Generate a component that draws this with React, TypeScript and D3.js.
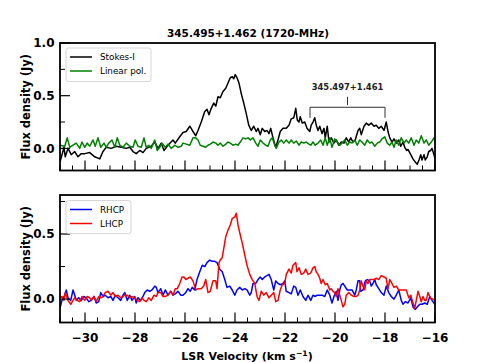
import React from "react";
import * as d3 from "d3";

// ---------- data ----------
const titleText = "345.495+1.462 (1720-MHz)";
const annotText = "345.497+1.461";
const annotRange = [-21, -18];
const xMajorTicks = [-30, -28, -26, -24, -22, -20, -18, -16];
const topYMajor = [0.0, 0.5, 1.0];
const topYMinor = [0.25, 0.75];
const botYMajor = [0.0, 0.5];
const botYMinor = [0.25, 0.75];

const stokesI: [number, number][] = [
  [-31.0, -0.13], [-30.84, 0.01], [-30.79, -0.08], [-30.68, 0.0], [-30.55, -0.06], [-30.41, -0.03],
  [-30.28, -0.08], [-30.15, -0.05], [-30.01, -0.05], [-29.81, -0.04], [-29.61, -0.08], [-29.41, -0.1],
  [-29.28, -0.03], [-29.15, 0.01], [-28.95, 0.0], [-28.75, 0.02], [-28.55, 0.01], [-28.35, 0.0],
  [-28.21, 0.01], [-28.08, -0.03], [-27.95, -0.05], [-27.81, -0.02], [-27.68, -0.04], [-27.55, 0.0],
  [-27.35, 0.02], [-27.21, 0.06], [-27.08, 0.0], [-26.95, 0.05], [-26.84, -0.02], [-26.68, 0.03],
  [-26.48, 0.08], [-26.39, 0.05], [-26.21, 0.11], [-26.08, 0.15], [-25.95, 0.16], [-25.81, 0.21],
  [-25.75, 0.19], [-25.68, 0.16], [-25.57, 0.12], [-25.48, 0.17], [-25.35, 0.25], [-25.21, 0.35],
  [-25.12, 0.37], [-25.04, 0.32], [-24.95, 0.38], [-24.85, 0.43], [-24.77, 0.4], [-24.68, 0.49],
  [-24.59, 0.48], [-24.48, 0.54], [-24.37, 0.57], [-24.28, 0.62], [-24.19, 0.67], [-24.11, 0.68],
  [-24.05, 0.66], [-23.99, 0.7], [-23.92, 0.67], [-23.84, 0.62], [-23.75, 0.52], [-23.65, 0.43],
  [-23.55, 0.33], [-23.45, 0.22], [-23.35, 0.17], [-23.25, 0.21], [-23.15, 0.16], [-23.08, 0.19],
  [-22.99, 0.13], [-22.91, 0.19], [-22.81, 0.16], [-22.72, 0.17], [-22.64, 0.14], [-22.57, 0.19],
  [-22.48, 0.1], [-22.37, 0.01], [-22.28, 0.08], [-22.19, 0.16], [-22.08, 0.19], [-21.95, 0.19],
  [-21.84, 0.22], [-21.75, 0.28], [-21.65, 0.29], [-21.57, 0.38], [-21.51, 0.27], [-21.44, 0.25],
  [-21.39, 0.3], [-21.31, 0.24], [-21.21, 0.25], [-21.12, 0.19], [-21.01, 0.16], [-20.95, 0.22],
  [-20.88, 0.25], [-20.81, 0.29], [-20.75, 0.22], [-20.68, 0.17], [-20.61, 0.21], [-20.52, 0.14],
  [-20.44, 0.19], [-20.39, 0.1], [-20.31, 0.21], [-20.24, 0.06], [-20.15, 0.1], [-20.04, 0.05],
  [-19.95, 0.08], [-19.85, 0.03], [-19.75, 0.06], [-19.64, 0.05], [-19.55, 0.1], [-19.45, 0.06],
  [-19.37, 0.1], [-19.28, 0.06], [-19.19, 0.08], [-19.08, 0.17], [-19.01, 0.19], [-18.95, 0.13],
  [-18.84, 0.21], [-18.75, 0.24], [-18.65, 0.22], [-18.55, 0.24], [-18.44, 0.21], [-18.35, 0.22],
  [-18.25, 0.19], [-18.15, 0.21], [-18.04, 0.17], [-17.95, 0.25], [-17.88, 0.16], [-17.81, 0.1],
  [-17.72, 0.06], [-17.64, 0.09], [-17.55, 0.05], [-17.45, 0.08], [-17.37, 0.02], [-17.28, 0.06],
  [-17.21, 0.01], [-17.13, -0.02], [-17.08, -0.01], [-16.97, -0.06], [-16.88, -0.1], [-16.79, -0.13],
  [-16.71, -0.15], [-16.64, -0.11], [-16.57, -0.06], [-16.52, -0.11], [-16.44, -0.06], [-16.39, -0.11],
  [-16.31, -0.08], [-16.25, -0.03], [-16.17, -0.02], [-16.12, 0.0], [-16.04, -0.06], [-16.0, -0.1],
];

const linearPol: [number, number][] = [
  [-31.0, 0.03], [-30.81, 0.02], [-30.71, 0.1], [-30.61, 0.01], [-30.48, 0.03], [-30.35, 0.05],
  [-30.21, 0.0], [-30.12, 0.06], [-30.01, 0.01], [-29.91, 0.05], [-29.81, 0.02], [-29.68, 0.08],
  [-29.59, 0.02], [-29.48, 0.1], [-29.37, 0.01], [-29.24, 0.05], [-29.15, 0.01], [-29.05, 0.05],
  [-28.92, 0.08], [-28.81, 0.01], [-28.71, 0.1], [-28.61, 0.03], [-28.48, 0.01], [-28.35, 0.05],
  [-28.21, 0.02], [-28.08, 0.01], [-27.99, 0.08], [-27.88, 0.02], [-27.75, 0.01], [-27.64, 0.1],
  [-27.55, 0.01], [-27.45, 0.03], [-27.35, 0.0], [-27.21, 0.08], [-27.11, -0.02], [-27.01, 0.01],
  [-26.92, 0.05], [-26.79, 0.01], [-26.68, 0.04], [-26.55, 0.0], [-26.41, 0.03], [-26.28, 0.01],
  [-26.15, 0.02], [-26.08, 0.05], [-25.95, 0.04], [-25.81, 0.03], [-25.68, 0.1], [-25.57, 0.1],
  [-25.48, 0.08], [-25.39, 0.03], [-25.28, 0.02], [-25.17, 0.01], [-25.08, 0.03], [-24.99, 0.04],
  [-24.88, 0.06], [-24.77, 0.05], [-24.68, 0.03], [-24.59, 0.05], [-24.48, 0.02], [-24.37, 0.04],
  [-24.28, 0.06], [-24.19, 0.05], [-24.08, 0.03], [-23.97, 0.04], [-23.88, 0.03], [-23.79, 0.06],
  [-23.68, 0.1], [-23.57, 0.09], [-23.48, 0.1], [-23.39, 0.08], [-23.28, 0.1], [-23.17, 0.05],
  [-23.08, 0.02], [-22.99, 0.08], [-22.88, 0.05], [-22.77, 0.03], [-22.68, 0.02], [-22.59, 0.08],
  [-22.51, 0.1], [-22.41, 0.03], [-22.35, 0.0], [-22.24, 0.06], [-22.15, 0.08], [-22.05, 0.05],
  [-21.95, 0.08], [-21.84, 0.05], [-21.75, 0.08], [-21.65, 0.05], [-21.55, 0.07], [-21.44, 0.03],
  [-21.35, 0.06], [-21.25, 0.05], [-21.15, 0.06], [-21.04, 0.04], [-20.97, 0.03], [-20.88, 0.06],
  [-20.79, 0.03], [-20.68, 0.05], [-20.57, 0.08], [-20.48, 0.03], [-20.39, 0.1], [-20.31, 0.03],
  [-20.21, 0.1], [-20.12, 0.01], [-20.01, 0.09], [-19.91, 0.06], [-19.81, 0.03], [-19.72, 0.05],
  [-19.61, 0.08], [-19.51, 0.03], [-19.41, 0.06], [-19.32, 0.05], [-19.21, 0.08], [-19.11, 0.03],
  [-19.01, 0.08], [-18.92, 0.06], [-18.81, 0.03], [-18.71, 0.08], [-18.61, 0.05], [-18.52, 0.06],
  [-18.41, 0.02], [-18.31, 0.05], [-18.21, 0.06], [-18.12, 0.09], [-18.01, 0.11], [-17.91, 0.05],
  [-17.81, 0.03], [-17.72, 0.06], [-17.64, 0.01], [-17.55, 0.08], [-17.45, 0.03], [-17.35, 0.1],
  [-17.24, 0.05], [-17.15, 0.08], [-17.05, 0.05], [-16.95, 0.1], [-16.84, 0.03], [-16.75, 0.08],
  [-16.65, 0.05], [-16.55, 0.12], [-16.44, 0.05], [-16.35, 0.08], [-16.25, 0.03], [-16.15, 0.06],
  [-16.04, 0.1], [-16.0, 0.06],
];

const rhcp: [number, number][] = [
  [-31.0, -0.07], [-30.92, -0.01], [-30.81, 0.03], [-30.75, 0.07], [-30.68, 0.01], [-30.57, -0.01],
  [-30.48, 0.07], [-30.41, 0.03], [-30.35, -0.01], [-30.25, 0.01], [-30.15, -0.01], [-30.04, 0.02],
  [-29.95, 0.01], [-29.85, -0.02], [-29.75, -0.01], [-29.64, 0.02], [-29.55, -0.03], [-29.45, -0.02],
  [-29.37, 0.05], [-29.28, 0.02], [-29.19, 0.03], [-29.08, 0.01], [-28.97, 0.02], [-28.88, -0.01],
  [-28.79, 0.03], [-28.68, 0.01], [-28.57, -0.01], [-28.48, 0.03], [-28.41, 0.05], [-28.31, -0.01],
  [-28.21, 0.03], [-28.12, -0.01], [-28.01, 0.02], [-27.95, -0.03], [-27.88, 0.01], [-27.77, -0.01],
  [-27.68, 0.02], [-27.61, 0.05], [-27.51, 0.07], [-27.41, 0.06], [-27.32, 0.07], [-27.21, 0.1],
  [-27.15, 0.09], [-27.08, 0.05], [-26.97, 0.08], [-26.88, 0.03], [-26.79, 0.07], [-26.68, 0.03],
  [-26.57, 0.06], [-26.48, 0.03], [-26.39, 0.04], [-26.28, 0.06], [-26.17, 0.03], [-26.08, 0.03],
  [-25.97, 0.05], [-25.88, 0.08], [-25.79, 0.06], [-25.71, 0.09], [-25.61, 0.07], [-25.52, 0.15],
  [-25.41, 0.21], [-25.31, 0.26], [-25.21, 0.25], [-25.12, 0.28], [-25.01, 0.3], [-24.91, 0.29],
  [-24.81, 0.29], [-24.72, 0.28], [-24.61, 0.23], [-24.51, 0.21], [-24.41, 0.15], [-24.32, 0.09],
  [-24.21, 0.1], [-24.11, 0.07], [-24.01, 0.03], [-23.92, 0.07], [-23.81, 0.09], [-23.71, 0.07],
  [-23.61, 0.08], [-23.52, 0.07], [-23.41, 0.03], [-23.35, 0.05], [-23.28, 0.12], [-23.17, 0.12],
  [-23.08, 0.15], [-22.99, 0.17], [-22.91, 0.15], [-22.81, 0.17], [-22.72, 0.18], [-22.64, 0.19],
  [-22.55, 0.15], [-22.45, 0.07], [-22.37, 0.14], [-22.28, 0.12], [-22.19, 0.11], [-22.08, 0.12],
  [-22.01, 0.14], [-21.95, 0.06], [-21.84, 0.05], [-21.75, 0.04], [-21.65, 0.1], [-21.57, 0.09],
  [-21.48, 0.03], [-21.39, 0.07], [-21.28, 0.02], [-21.17, -0.01], [-21.08, 0.03], [-20.97, -0.01],
  [-20.88, 0.03], [-20.79, 0.02], [-20.71, 0.03], [-20.61, 0.03], [-20.52, 0.03], [-20.41, 0.02],
  [-20.31, 0.07], [-20.21, 0.03], [-20.12, -0.03], [-20.04, 0.02], [-19.95, 0.06], [-19.88, -0.01],
  [-19.81, 0.07], [-19.75, 0.11], [-19.68, 0.12], [-19.61, 0.1], [-19.51, 0.07], [-19.41, 0.07],
  [-19.32, 0.07], [-19.21, 0.03], [-19.15, 0.07], [-19.08, 0.14], [-19.01, 0.14], [-18.97, 0.06],
  [-18.88, 0.07], [-18.79, 0.14], [-18.71, 0.15], [-18.61, 0.14], [-18.55, 0.1], [-18.48, 0.12],
  [-18.41, 0.15], [-18.35, 0.11], [-18.25, 0.08], [-18.15, 0.05], [-18.04, 0.03], [-17.95, 0.1],
  [-17.85, 0.05], [-17.75, 0.02], [-17.64, 0.0], [-17.55, 0.03], [-17.45, 0.07], [-17.35, -0.01],
  [-17.28, -0.04], [-17.19, -0.02], [-17.08, -0.03], [-16.97, 0.01], [-16.88, -0.06], [-16.79, -0.08],
  [-16.71, -0.06], [-16.61, -0.04], [-16.52, -0.04], [-16.41, -0.03], [-16.31, -0.04], [-16.21, 0.02],
  [-16.12, -0.01], [-16.01, -0.04],
];

const lhcp: [number, number][] = [
  [-31.0, 0.01], [-30.92, 0.02], [-30.84, -0.01], [-30.79, 0.05], [-30.68, -0.01], [-30.57, -0.04],
  [-30.48, -0.01], [-30.41, 0.01], [-30.31, -0.01], [-30.21, -0.02], [-30.12, 0.02], [-30.01, -0.01],
  [-29.91, 0.02], [-29.81, 0.01], [-29.75, -0.01], [-29.64, 0.02], [-29.55, -0.02], [-29.45, 0.02],
  [-29.37, 0.01], [-29.28, 0.02], [-29.19, 0.05], [-29.08, 0.06], [-28.97, 0.03], [-28.88, 0.05],
  [-28.79, 0.02], [-28.68, 0.03], [-28.57, 0.01], [-28.48, 0.02], [-28.41, 0.03], [-28.31, 0.03],
  [-28.21, 0.01], [-28.12, 0.02], [-28.01, 0.01], [-27.91, -0.01], [-27.81, -0.02], [-27.72, 0.01],
  [-27.64, -0.01], [-27.55, -0.02], [-27.45, 0.01], [-27.35, -0.01], [-27.24, 0.03], [-27.15, 0.02],
  [-27.08, 0.05], [-26.97, 0.05], [-26.88, 0.02], [-26.79, 0.02], [-26.68, 0.03], [-26.57, 0.06],
  [-26.48, 0.03], [-26.39, 0.08], [-26.31, 0.08], [-26.21, 0.12], [-26.12, 0.17], [-26.04, 0.17],
  [-25.97, 0.15], [-25.88, 0.16], [-25.79, 0.17], [-25.68, 0.14], [-25.57, 0.07], [-25.48, 0.08],
  [-25.35, 0.08], [-25.25, 0.1], [-25.17, 0.15], [-25.08, 0.05], [-24.99, 0.06], [-24.88, 0.14],
  [-24.77, 0.14], [-24.72, 0.08], [-24.64, 0.28], [-24.59, 0.3], [-24.51, 0.32], [-24.43, 0.41],
  [-24.37, 0.48], [-24.28, 0.53], [-24.19, 0.57], [-24.11, 0.62], [-24.01, 0.63], [-23.95, 0.66],
  [-23.88, 0.57], [-23.81, 0.51], [-23.71, 0.43], [-23.61, 0.34], [-23.52, 0.26], [-23.41, 0.19],
  [-23.31, 0.15], [-23.21, 0.12], [-23.12, 0.02], [-23.04, -0.01], [-22.95, 0.06], [-22.85, 0.03],
  [-22.75, 0.05], [-22.64, 0.01], [-22.55, 0.03], [-22.45, 0.05], [-22.37, -0.02], [-22.28, -0.01],
  [-22.19, 0.07], [-22.11, 0.11], [-22.01, 0.12], [-21.95, 0.19], [-21.84, 0.23], [-21.75, 0.2],
  [-21.68, 0.26], [-21.57, 0.28], [-21.52, 0.21], [-21.44, 0.24], [-21.35, 0.19], [-21.25, 0.2],
  [-21.17, 0.23], [-21.08, 0.19], [-20.97, 0.2], [-20.88, 0.24], [-20.81, 0.25], [-20.75, 0.21],
  [-20.68, 0.19], [-20.61, 0.16], [-20.55, 0.12], [-20.48, 0.15], [-20.39, 0.11], [-20.31, 0.12],
  [-20.21, 0.07], [-20.15, 0.08], [-20.08, 0.06], [-20.01, 0.05], [-19.95, 0.02], [-19.88, 0.08],
  [-19.81, 0.03], [-19.75, -0.01], [-19.68, -0.06], [-19.61, -0.04], [-19.55, 0.03], [-19.45, 0.05],
  [-19.35, 0.03], [-19.24, 0.02], [-19.15, 0.02], [-19.08, 0.03], [-19.01, 0.07], [-18.95, 0.14],
  [-18.88, 0.1], [-18.81, 0.07], [-18.75, 0.14], [-18.68, 0.12], [-18.61, 0.15], [-18.55, 0.15],
  [-18.44, 0.15], [-18.35, 0.16], [-18.25, 0.15], [-18.15, 0.18], [-18.04, 0.17], [-17.95, 0.16],
  [-17.88, 0.08], [-17.81, 0.15], [-17.72, 0.12], [-17.64, 0.09], [-17.55, 0.1], [-17.45, 0.07],
  [-17.35, 0.07], [-17.24, 0.07], [-17.15, 0.07], [-17.05, 0.01], [-16.97, 0.03], [-16.88, -0.03],
  [-16.81, -0.07], [-16.75, -0.01], [-16.68, 0.06], [-16.61, 0.02], [-16.55, -0.02], [-16.48, 0.02],
  [-16.41, -0.01], [-16.35, -0.01], [-16.28, 0.05], [-16.21, 0.02], [-16.15, 0.0], [-16.08, 0.0],
  [-16.01, -0.01],
];

// ---------- layout ----------
const W = 484;
const H = 363;
const FONT = "DejaVu Sans";
const xDomain = [-31, -16];
const x = d3.scaleLinear().domain(xDomain).range([60, 435]);
const yTop = d3.scaleLinear().domain([-0.21, 1.0]).range([170.5, 43]);
const yBot = d3.scaleLinear().domain([-0.18, 0.8]).range([322.5, 195]);
const xMinorTicks = d3.range(-31, -15.99, 0.5).filter((v) => !xMajorTicks.includes(v));
const fmtY = (v: number) => v.toFixed(1);
const fmtX = (v: number) => (v < 0 ? "\u2212" + Math.abs(v) : String(v));

type Series = { data: [number, number][]; color: string; label: string };

function Panel({
  id, y, series, yMajor, yMinor, showXLabels, legend,
}: {
  id: string;
  y: d3.ScaleLinear<number, number>;
  series: Series[];
  yMajor: number[];
  yMinor: number[];
  showXLabels: boolean;
  legend: { x: number; y: number; w: number; h: number };
}) {
  const [x0, x1] = x.range();
  const [yb, yt] = y.range();
  const line = d3.line<[number, number]>().x((d) => x(d[0])).y((d) => y(d[1]));
  const rowH = 14;
  return (
    <g>
      <defs>
        <clipPath id={id}>
          <rect x={x0} y={yt} width={x1 - x0} height={yb - yt} />
        </clipPath>
      </defs>
      <g clipPath={`url(#${id})`}>
        {series.map((s) => (
          <path key={s.label} d={line(s.data) || ""} fill="none" stroke={s.color} strokeWidth={1.5} strokeLinejoin="round" />
        ))}
      </g>
      {/* x ticks */}
      {xMajorTicks.map((t) => (
        <line key={"xM" + t} x1={x(t)} x2={x(t)} y1={yb} y2={yb - 10} stroke="black" strokeWidth={1.2} />
      ))}
      {xMinorTicks.map((t) => (
        <line key={"xm" + t} x1={x(t)} x2={x(t)} y1={yb} y2={yb - 5} stroke="black" strokeWidth={1} />
      ))}
      {showXLabels &&
        xMajorTicks.map((t) => (
          <text key={"xl" + t} x={x(t)} y={yb + 19} textAnchor="middle" fontFamily={FONT} fontWeight="bold" fontSize={12}>
            {fmtX(t)}
          </text>
        ))}
      {/* y ticks */}
      {yMajor.map((t) => (
        <g key={"yM" + t}>
          <line x1={x0} x2={x0 + 10} y1={y(t)} y2={y(t)} stroke="black" strokeWidth={1.2} />
          <text x={x0 - 5.5} y={y(t)} dy="0.36em" textAnchor="end" fontFamily={FONT} fontWeight="bold" fontSize={12}>
            {fmtY(t)}
          </text>
        </g>
      ))}
      {yMinor.map((t) => (
        <line key={"ym" + t} x1={x0} x2={x0 + 5} y1={y(t)} y2={y(t)} stroke="black" strokeWidth={1} />
      ))}
      {/* frame */}
      <rect x={x0} y={yt} width={x1 - x0} height={yb - yt} fill="none" stroke="black" strokeWidth={1.8} />
      {/* y label */}
      <text
        transform={`translate(29.5,${(yb + yt) / 2}) rotate(-90)`}
        textAnchor="middle"
        fontFamily={FONT}
        fontWeight="bold"
        fontSize={11.5}
      >
        Flux density (Jy)
      </text>
      {/* legend */}
      <rect x={legend.x} y={legend.y} width={legend.w} height={legend.h} rx={2.5} fill="white" fillOpacity={0.8} stroke="#cccccc" strokeWidth={0.8} />
      {series.map((s, i) => {
        const ly = legend.y + 9 + i * rowH;
        return (
          <g key={"lg" + s.label}>
            <line x1={legend.x + 4} x2={legend.x + 26} y1={ly} y2={ly} stroke={s.color} strokeWidth={1.5} />
            <text x={legend.x + 34} y={ly} dy="0.35em" fontFamily={FONT} fontSize={8.8}>
              {s.label}
            </text>
          </g>
        );
      })}
    </g>
  );
}

export default function App() {
  const aL = x(annotRange[0]);
  const aR = x(annotRange[1]);
  const aC = (aL + aR) / 2;
  return (
    <svg width={W} height={H} style={{ position: "absolute", left: 0, top: 0, background: "white" }}>
      <rect width={W} height={H} fill="white" />
      <text x={248} y={37} textAnchor="middle" fontFamily={FONT} fontWeight="bold" fontSize={10.5}>
        {titleText}
      </text>
      <Panel
        id="clipTop"
        y={yTop}
        series={[
          { data: stokesI, color: "black", label: "Stokes-I" },
          { data: linearPol, color: "#008000", label: "Linear pol." },
        ]}
        yMajor={topYMajor}
        yMinor={topYMinor}
        showXLabels={false}
        legend={{ x: 66, y: 48, w: 85, h: 33.5 }}
      />
      <Panel
        id="clipBot"
        y={yBot}
        series={[
          { data: rhcp, color: "#0000ff", label: "RHCP" },
          { data: lhcp, color: "#ff0000", label: "LHCP" },
        ]}
        yMajor={botYMajor}
        yMinor={botYMinor}
        showXLabels={true}
        legend={{ x: 66, y: 200.5, w: 65, h: 33 }}
      />
      {/* annotation bracket */}
      <g stroke="#333" strokeWidth={1} fill="none">
        <path d={`M${aL},${yTop(0.29)}V${yTop(0.39)}H${aR}V${yTop(0.29)}`} />
        <line x1={aC} x2={aC} y1={yTop(0.41)} y2={yTop(0.49)} />
      </g>
      <text x={aC} y={yTop(0.55)} textAnchor="middle" fontFamily={FONT} fontWeight="bold" fontSize={8.4} fill="#222">
        {annotText}
      </text>
      {/* x label */}
      <text x={247} y={360} textAnchor="middle" fontFamily={FONT} fontWeight="bold" fontSize={11}>
        LSR Velocity (km s
        <tspan dy={-4} fontSize={7.7}>{"\u22121"}</tspan>
        <tspan dy={4}>)</tspan>
      </text>
    </svg>
  );
}
